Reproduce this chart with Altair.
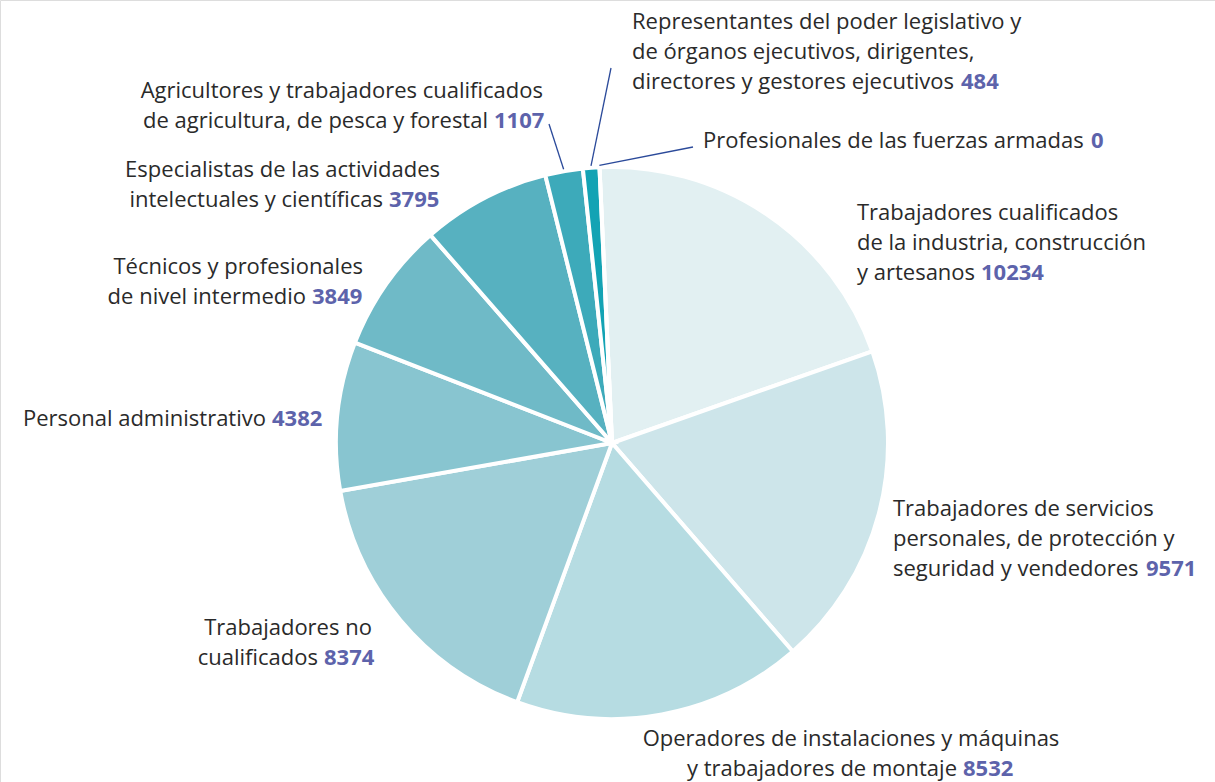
import math
import altair as alt
import pandas as pd

# ---- data ----
categories = [
    "Trabajadores cualificados de la industria, construcción y artesanos",
    "Trabajadores de servicios personales, de protección y seguridad y vendedores",
    "Operadores de instalaciones y máquinas y trabajadores de montaje",
    "Trabajadores no cualificados",
    "Personal administrativo",
    "Técnicos y profesionales de nivel intermedio",
    "Especialistas de las actividades intelectuales y científicas",
    "Agricultores y trabajadores cualificados de agricultura, de pesca y forestal",
    "Representantes del poder legislativo y de órganos ejecutivos, dirigentes, directores y gestores ejecutivos",
    "Profesionales de las fuerzas armadas",
]
values = [10234, 9571, 8532, 8374, 4382, 3849, 3795, 1107, 484, 0]
colors = ["#e2f0f2", "#cde5ea", "#b6dce2", "#9fcfd8", "#88c5d0",
          "#6fbac7", "#57b1c0", "#3daaba", "#13a3b4", "#0b98ab"]

# label text lines (the last line is followed by the bold value)
label_lines = [
    ["Trabajadores cualificados", "de la industria, construcción", "y artesanos"],
    ["Trabajadores de servicios", "personales, de protección y", "seguridad y vendedores"],
    ["Operadores de instalaciones y máquinas", "y trabajadores de montaje"],
    ["Trabajadores no", "cualificados"],
    ["Personal administrativo"],
    ["Técnicos y profesionales", "de nivel intermedio"],
    ["Especialistas de las actividades", "intelectuales y científicas"],
    ["Agricultores y trabajadores cualificados", "de agricultura, de pesca y forestal"],
    ["Representantes del poder legislativo y", "de órganos ejecutivos, dirigentes,", "directores y gestores ejecutivos"],
    ["Profesionales de las fuerzas armadas"],
]

# ---- layout (pixels) ----
CX, CY, R = 612, 443, 276
START = -2.6  # degrees, rotation of the pie
LINE_H = 30
FONT = "Open Sans"
FS = 22
GAP = 6
# anchor x, first-line y, alignment, x where the bold value starts
label_pos = [
    (857, 213, "left", 981),
    (893, 509, "left", 1146),
    (851, 739, "center", 963),
    (288, 628, "center", 324),
    (323, 419, "right", 272),
    (363, 267, "right", 312),
    (440, 170, "right", 389),
    (543, 91, "right", 494),
    (632, 22, "left", 961),
    (703, 141, "left", 1091),
]
leader_idx = [7, 8, 9]
leader_outer = [(549, 124), (611, 68), (693, 147)]

# ---- build tables ----
pie_df = pd.DataFrame({"cat": categories, "value": values, "idx": range(len(values))})

total = sum(values)
rows = []
nums = []
for i, lines in enumerate(label_lines):
    ax, ay, al, nx = label_pos[i]
    for j, ln in enumerate(lines):
        y = ay + j * LINE_H
        if j == len(lines) - 1:
            if al == "left":
                rows.append({"x": ax, "y": y, "t": ln, "al": "left"})
            else:
                rows.append({"x": nx - GAP, "y": y, "t": ln, "al": "right"})
            nums.append({"x": nx, "y": y, "t": str(values[i])})
        else:
            rows.append({"x": ax, "y": y, "t": ln, "al": al})
text_df = pd.DataFrame(rows)
num_df = pd.DataFrame(nums)

lead_rows = []
cum = 0
cums = []
for v in values:
    cums.append(cum)
    cum += v
for k, i in enumerate(leader_idx):
    mid = START + (cums[i] + values[i] / 2) / total * 360
    a = math.radians(mid)
    x1 = CX + (R + 2) * math.sin(a)
    y1 = CY - (R + 2) * math.cos(a)
    lead_rows.append({"x": x1, "y": y1, "x2": leader_outer[k][0], "y2": leader_outer[k][1]})
lead_df = pd.DataFrame(lead_rows)

W, H = 1215, 782
s0 = math.radians(START)

pie = alt.Chart(pie_df).mark_arc(outerRadius=R, stroke="white", strokeWidth=4).encode(
    theta=alt.Theta("value:Q", stack=True, scale=alt.Scale(range=[s0, s0 + 2 * math.pi])),
    order=alt.Order("idx:Q"),
    color=alt.Color("cat:N", scale=alt.Scale(domain=categories, range=colors), legend=None),
    x=alt.value(CX),
    y=alt.value(CY),
)

leaders = alt.Chart(lead_df).mark_rule(color="#2b4a9a", strokeWidth=1.3).encode(
    x=alt.X("x:Q", scale=None), y=alt.Y("y:Q", scale=None),
    x2="x2:Q", y2="y2:Q",
)

layers = [pie, leaders]
for al in ["left", "center", "right"]:
    sub = text_df[text_df["al"] == al]
    if len(sub):
        layers.append(
            alt.Chart(sub).mark_text(align=al, baseline="middle", font=FONT, fontSize=FS,
                                     color="#2a2a2a").encode(
                x=alt.X("x:Q", scale=None), y=alt.Y("y:Q", scale=None), text="t:N")
        )
layers.append(
    alt.Chart(num_df).mark_text(align="left", baseline="middle", font=FONT, fontSize=FS,
                                fontWeight="bold", color="#5d63ab").encode(
        x=alt.X("x:Q", scale=None), y=alt.Y("y:Q", scale=None), text="t:N")
)

chart = alt.layer(*layers).properties(width=W, height=H, padding=0, autosize="none").configure_view(
    stroke=None).configure(background="white")

chart.save("out.html", embed_options={"renderer": "svg", "actions": False})
